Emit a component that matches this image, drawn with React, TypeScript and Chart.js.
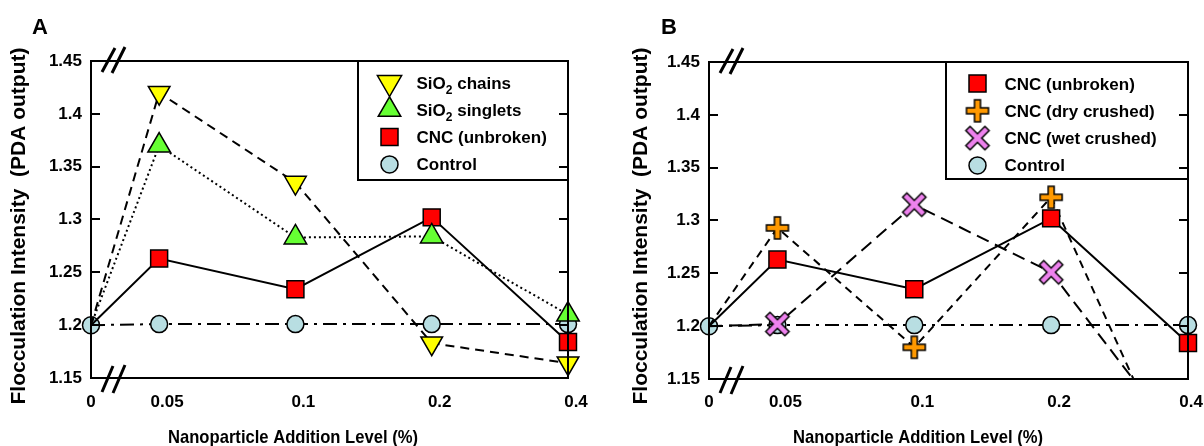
import React, { useEffect, useRef } from "react";
import { Chart, registerables } from "chart.js";

Chart.register(...registerables);

// ---------------- data ----------------
const categories = ["0", "0.05", "0.1", "0.2", "0.4"];
// slot of each category on the (not-to-scale) x axis
const xSlots = [0, 0.5, 1.5, 2.5, 3.5];
const yTickValues = [1.15, 1.2, 1.25, 1.3, 1.35, 1.4, 1.45];
const yTickLabels = ["1.15", "1.2", "1.25", "1.3", "1.35", "1.4", "1.45"];

// Panel A
const sio2Chains = [1.2, 1.42, 1.335, 1.183, 1.164];
const sio2Singlets = [1.2, 1.37, 1.283, 1.284, 1.21];
const cncUnbrokenA = [1.2, 1.263, 1.234, 1.302, 1.184];
const controlA = [1.2, 1.201, 1.201, 1.201, 1.201];

// Panel B
const cncUnbrokenB = [1.2, 1.263, 1.235, 1.302, 1.184];
const cncDryCrushed = [1.2, 1.293, 1.18, 1.322, 1.036];
const cncWetCrushed = [1.2, 1.202, 1.315, 1.251, 1.082];
const controlB = [1.2, 1.201, 1.201, 1.201, 1.201];

const xTitle = "Nanoparticle Addition Level (%)";
const yTitle = "Flocculation Intensity  (PDA output)";

// ---------------- styles ----------------
const FONT = "'Liberation Sans', Arial, Helvetica, sans-serif";
const TXT = 17;

type Shape = "down" | "up" | "square" | "circle" | "plus" | "x";
type Series = { label: string; values: number[]; dash: number[]; fill: string; shape: Shape; hideFirst: boolean };

const YELLOW = "#FFFF00";
const GREEN = "#66FF33";
const RED = "#FF0000";
const LBLUE = "#B8DEE2";
const ORANGE = "#FF9900";
const VIOLET = "#EE82EE";

const imgCache: Record<string, HTMLCanvasElement> = {};
function crossImage(kind: "plus" | "x"): HTMLCanvasElement {
  if (imgCache[kind]) return imgCache[kind];
  const size = 28;
  const c = document.createElement("canvas");
  c.width = size;
  c.height = size;
  const g = c.getContext("2d")!;
  g.translate(size / 2, size / 2);
  let a = 11, t = 3;
  if (kind === "x") {
    g.rotate(Math.PI / 4);
    a = 13.5;
  }
  g.beginPath();
  g.moveTo(-t, -a); g.lineTo(t, -a); g.lineTo(t, -t); g.lineTo(a, -t); g.lineTo(a, t); g.lineTo(t, t);
  g.lineTo(t, a); g.lineTo(-t, a); g.lineTo(-t, t); g.lineTo(-a, t); g.lineTo(-a, -t); g.lineTo(-t, -t);
  g.closePath();
  g.fillStyle = kind === "plus" ? ORANGE : VIOLET;
  g.fill();
  g.lineWidth = 1.5;
  g.strokeStyle = "#000";
  g.stroke();
  imgCache[kind] = c;
  return c;
}

function pointOpts(shape: Shape) {
  switch (shape) {
    case "down": return { pointStyle: "triangle", pointRotation: 180, r: 12.5 };
    case "up": return { pointStyle: "triangle", pointRotation: 0, r: 13 };
    case "square": return { pointStyle: "rect", pointRotation: 0, r: 12 };
    case "circle": return { pointStyle: "circle", pointRotation: 0, r: 8.5 };
    case "plus": return { pointStyle: crossImage("plus"), pointRotation: 0, r: 11 };
    case "x": return { pointStyle: crossImage("x"), pointRotation: 0, r: 11 };
  }
}

function drawShape(ctx: CanvasRenderingContext2D, s: Series, x: number, y: number) {
  ctx.save();
  ctx.lineWidth = 1.5;
  ctx.strokeStyle = "#000";
  ctx.fillStyle = s.fill;
  ctx.beginPath();
  if (s.shape === "down" || s.shape === "up") {
    const r = s.shape === "down" ? 14 : 13;
    const d = s.shape === "down" ? 1 : -1;
    ctx.moveTo(x, y + d * r);
    ctx.lineTo(x - r * 0.866, y - d * r / 2);
    ctx.lineTo(x + r * 0.866, y - d * r / 2);
    ctx.closePath();
    ctx.fill(); ctx.stroke();
  } else if (s.shape === "square") {
    ctx.rect(x - 8.5, y - 8.5, 17, 17);
    ctx.fill(); ctx.stroke();
  } else if (s.shape === "circle") {
    ctx.arc(x, y, 8.5, 0, Math.PI * 2);
    ctx.fill(); ctx.stroke();
  } else {
    const img = crossImage(s.shape);
    ctx.drawImage(img, x - img.width / 2, y - img.height / 2);
  }
  ctx.restore();
}

function drawLabel(ctx: CanvasRenderingContext2D, text: string, x: number, cy: number) {
  const base = cy + 6;
  const parts = text.split("\u2082");
  let cx = x;
  ctx.textBaseline = "alphabetic";
  ctx.textAlign = "left";
  parts.forEach((p, i) => {
    ctx.font = `bold ${TXT}px ${FONT}`;
    ctx.fillText(p, cx, base);
    cx += ctx.measureText(p).width;
    if (i < parts.length - 1) {
      ctx.font = `bold 12px ${FONT}`;
      ctx.fillText("2", cx, base + 5);
      cx += ctx.measureText("2").width;
    }
  });
}

type Panel = {
  letter: string;
  series: Series[];
  canvasWidth: number;
  padTop: number;
  padRight: number;
  yAxisW: number;
  xAxisH: number;
  legendW: number;
  legendH: number;
  yTitleX: number;
  xTitleX: number;
  letterX: number;
};

function makeDecor(p: Panel) {
  return {
    id: "decor",
    afterDatasetsDraw(chart: any) {
      const ctx: CanvasRenderingContext2D = chart.ctx;
      const ca = chart.chartArea;
      const ys = chart.scales.y;
      const xs = chart.scales.x;
      ctx.save();
      ctx.fillStyle = "#000";
      ctx.strokeStyle = "#000";

      // legend
      const lx = ca.right - p.legendW;
      const ly = ca.top;
      ctx.fillStyle = "#fff";
      ctx.fillRect(lx, ly, p.legendW, p.legendH);
      ctx.lineWidth = 2;
      ctx.strokeRect(lx, ly, p.legendW, p.legendH);
      p.series.forEach((s, i) => {
        const cy = ly + 21.5 + i * 27.3;
        drawShape(ctx, s, lx + 31.5, cy);
        ctx.fillStyle = "#000";
        drawLabel(ctx, s.label, lx + 58.5, cy);
      });

      // frame
      ctx.lineWidth = 2;
      ctx.strokeStyle = "#000";
      ctx.strokeRect(ca.left, ca.top, ca.right - ca.left, ca.bottom - ca.top);

      // inward ticks on both vertical axes
      yTickValues.slice(1, -1).forEach((v) => {
        const y = Math.round(ys.getPixelForValue(v));
        ctx.beginPath();
        ctx.moveTo(ca.left, y); ctx.lineTo(ca.left + 9, y);
        ctx.moveTo(ca.right - 9, y); ctx.lineTo(ca.right, y);
        ctx.stroke();
      });

      // axis breaks
      ctx.lineWidth = 3;
      const L = ca.left, T = ca.top, B = ca.bottom;
      ctx.beginPath();
      ctx.moveTo(L + 11, T + 11); ctx.lineTo(L + 24, T - 13);
      ctx.moveTo(L + 21, T + 12); ctx.lineTo(L + 34, T - 14);
      ctx.moveTo(L + 11, B + 14); ctx.lineTo(L + 22, B - 12);
      ctx.moveTo(L + 22, B + 15); ctx.lineTo(L + 34, B - 13);
      ctx.stroke();

      // x tick labels (the source figure sets them slightly right of the marks)
      ctx.fillStyle = "#000";
      ctx.font = `bold ${TXT}px ${FONT}`;
      ctx.textAlign = "center";
      ctx.textBaseline = "middle";
      xSlots.forEach((v, i) => {
        const w = ctx.measureText(categories[i]).width;
        let px = xs.getPixelForValue(v) + (i === 0 ? 0 : 8);
        px = Math.min(px, p.canvasWidth - w / 2 - 1);
        ctx.fillText(categories[i], px, 402);
      });

      // x title (slightly narrow lettering in the source)
      ctx.save();
      ctx.font = `bold 19px ${FONT}`;
      const tw = ctx.measureText(xTitle).width;
      ctx.translate(p.xTitleX, 437.5);
      ctx.scale(250 / tw, 1);
      ctx.fillText(xTitle, 0, 0);
      ctx.restore();

      // y title
      ctx.save();
      ctx.font = `bold 21px ${FONT}`;
      ctx.translate(p.yTitleX, 226);
      ctx.rotate(-Math.PI / 2);
      ctx.fillText(yTitle, 0, 0);
      ctx.restore();

      // panel letter
      ctx.font = `bold 22px ${FONT}`;
      ctx.textAlign = "left";
      ctx.textBaseline = "alphabetic";
      ctx.fillText(p.letter, p.letterX, 34);
      ctx.restore();
    },
  };
}

function buildConfig(p: Panel): any {
  return {
    type: "line",
    data: {
      datasets: p.series.map((s) => {
        const po = pointOpts(s.shape)!;
        return {
          label: s.label,
          data: s.values.map((v, i) => ({ x: xSlots[i], y: v })),
          borderColor: "#000",
          borderWidth: 2,
          borderDash: s.dash,
          backgroundColor: s.fill,
          pointBackgroundColor: s.fill,
          pointBorderColor: "#000",
          pointBorderWidth: 1.5,
          pointStyle: po.pointStyle,
          pointRotation: po.pointRotation,
          pointRadius: (c: any) => (c.dataIndex === 0 && s.hideFirst ? 0 : po.r),
          pointHoverRadius: po.r,
          tension: 0,
          fill: false,
          clip: { left: 20, right: 20, top: 20, bottom: 0 },
        };
      }),
    },
    options: {
      responsive: false,
      animation: false,
      devicePixelRatio: 1,
      events: [],
      layout: { padding: { left: 0, top: p.padTop, right: p.padRight, bottom: 0 } },
      plugins: { legend: { display: false }, tooltip: { enabled: false } },
      scales: {
        x: {
          type: "linear",
          min: 0,
          max: 3.5,
          afterBuildTicks: (s: any) => {
            s.ticks = xSlots.map((v) => ({ value: v }));
          },
          afterFit: (s: any) => {
            s.height = p.xAxisH;
          },
          grid: { display: false, drawTicks: false },
          border: { display: false },
          ticks: { display: false },
        },
        y: {
          type: "linear",
          min: 1.15,
          max: 1.45,
          afterBuildTicks: (s: any) => {
            s.ticks = yTickValues.map((v) => ({ value: v }));
          },
          afterFit: (s: any) => {
            s.width = p.yAxisW;
          },
          grid: { display: false, drawTicks: false },
          border: { display: false },
          ticks: {
            callback: (_v: any, i: number) => yTickLabels[i],
            font: { family: FONT, size: TXT, weight: "bold" },
            color: "#000",
            padding: 9,
            autoSkip: false,
          },
        },
      },
    },
    plugins: [makeDecor(p)],
  };
}

const panelA: Panel = {
  letter: "A",
  series: [
    { label: "SiO\u2082 chains", values: sio2Chains, dash: [9, 6], fill: YELLOW, shape: "down", hideFirst: true },
    { label: "SiO\u2082 singlets", values: sio2Singlets, dash: [2, 3], fill: GREEN, shape: "up", hideFirst: true },
    { label: "CNC (unbroken)", values: cncUnbrokenA, dash: [], fill: RED, shape: "square", hideFirst: true },
    { label: "Control", values: controlA, dash: [14, 6, 3, 6], fill: LBLUE, shape: "circle", hideFirst: false },
  ],
  canvasWidth: 600,
  padTop: 61,
  padRight: 32,
  yAxisW: 91,
  xAxisH: 68,
  legendW: 210,
  legendH: 119,
  yTitleX: 19,
  xTitleX: 293,
  letterX: 32,
};

const panelB: Panel = {
  letter: "B",
  series: [
    { label: "CNC (unbroken)", values: cncUnbrokenB, dash: [], fill: RED, shape: "square", hideFirst: true },
    { label: "CNC (dry crushed)", values: cncDryCrushed, dash: [8, 6], fill: ORANGE, shape: "plus", hideFirst: true },
    { label: "CNC (wet crushed)", values: cncWetCrushed, dash: [13, 7], fill: VIOLET, shape: "x", hideFirst: true },
    { label: "Control", values: controlB, dash: [14, 6, 3, 6], fill: LBLUE, shape: "circle", hideFirst: false },
  ],
  canvasWidth: 604,
  padTop: 62,
  padRight: 16,
  yAxisW: 109,
  xAxisH: 67,
  legendW: 242,
  legendH: 117,
  yTitleX: 41,
  xTitleX: 318,
  letterX: 61,
};

function ChartPanel({ panel, left }: { panel: Panel; left: number }) {
  const ref = useRef<HTMLCanvasElement>(null);
  useEffect(() => {
    const chart = new Chart(ref.current!, buildConfig(panel));
    return () => chart.destroy();
  }, []);
  return (
    <canvas
      ref={ref}
      width={panel.canvasWidth}
      height={446}
      style={{ position: "absolute", left, top: 0, width: panel.canvasWidth, height: 446 }}
    />
  );
}

export default function App() {
  return (
    <div style={{ position: "fixed", left: 0, top: 0, width: 1204, height: 446, background: "#fff", overflow: "hidden" }}>
      <ChartPanel panel={panelA} left={0} />
      <ChartPanel panel={panelB} left={600} />
    </div>
  );
}
